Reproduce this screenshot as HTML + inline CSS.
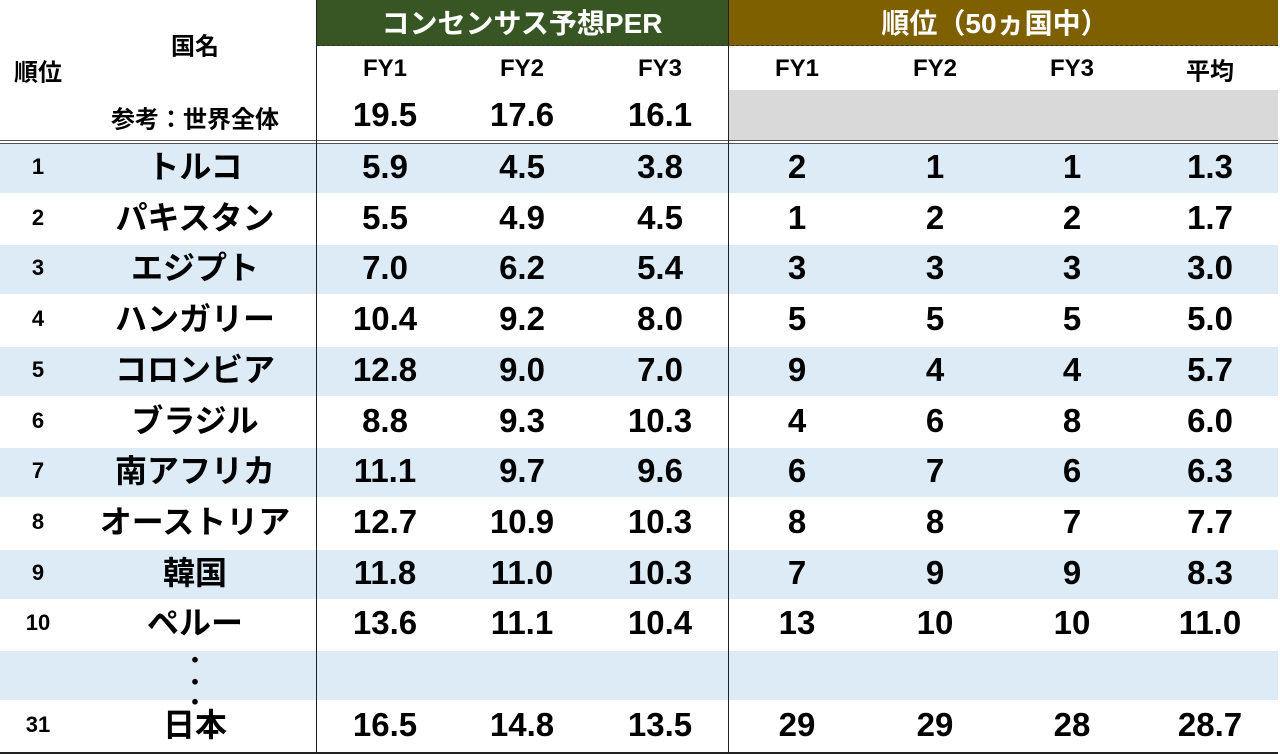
<!DOCTYPE html><html><head><meta charset="utf-8"><style>
body{margin:0;width:1280px;height:754px;background:#fff;position:relative;overflow:hidden;font-family:"Liberation Sans","Noto Sans CJK JP",sans-serif;font-weight:bold;color:#000}
.a{position:absolute}
.t{position:absolute;transform:translate(-50%,-50%);white-space:nowrap}
.n{font-size:33px}
.h{font-size:24px}
</style></head><body>
<div class="a" style="left:317px;top:0;width:411px;height:46px;background:#375623"></div>
<div class="a" style="left:729px;top:0;width:549px;height:46px;background:#7f6000"></div>
<div class="a" style="left:317px;top:45px;width:961px;border-top:1px dashed #333"></div>
<div class="a" style="left:729px;top:90px;width:549px;height:50px;background:#d9d9d9"></div>
<div class="a" style="left:0;top:140px;width:1278px;height:1px;background:#555"></div>
<div class="a" style="left:0;top:143px;width:1278px;height:1px;background:#555"></div>
<div id="rows"></div>
<div class="a" style="left:316px;top:0;width:1px;height:754px;background:#222"></div>
<div class="a" style="left:728px;top:0;width:1px;height:754px;background:#222"></div>
<div class="a" style="left:0;top:752px;width:1278px;height:2px;background:#222"></div>
<div class="t" style="left:522px;top:22px;color:#fff;font-size:28px">コンセンサス予想PER</div>
<div class="t" style="left:995px;top:22px;color:#fff;font-size:28px">順位（50ヵ国中）</div>
<div class="t h" style="left:38px;top:70px">順位</div>
<div class="t h" style="left:195px;top:44px">国名</div>
<div class="t h" style="left:195px;top:117px">参考：世界全体</div>
<div class="t h" style="left:385px;top:69px">FY1</div><div class="t h" style="left:522px;top:69px">FY2</div><div class="t h" style="left:660px;top:69px">FY3</div>
<div class="t h" style="left:797px;top:69px">FY1</div><div class="t h" style="left:935px;top:69px">FY2</div><div class="t h" style="left:1072px;top:69px">FY3</div><div class="t h" style="left:1210px;top:69px">平均</div>
<div class="t n" style="left:385px;top:115px">19.5</div><div class="t n" style="left:522px;top:115px">17.6</div><div class="t n" style="left:660px;top:115px">16.1</div>
<script>
(function(){
var d=[["1","トルコ","5.9","4.5","3.8","2","1","1","1.3"],["2","パキスタン","5.5","4.9","4.5","1","2","2","1.7"],["3","エジプト","7.0","6.2","5.4","3","3","3","3.0"],["4","ハンガリー","10.4","9.2","8.0","5","5","5","5.0"],["5","コロンビア","12.8","9.0","7.0","9","4","4","5.7"],["6","ブラジル","8.8","9.3","10.3","4","6","8","6.0"],["7","南アフリカ","11.1","9.7","9.6","6","7","6","6.3"],["8","オーストリア","12.7","10.9","10.3","8","8","7","7.7"],["9","韓国","11.8","11.0","10.3","7","9","9","8.3"],["10","ペルー","13.6","11.1","10.4","13","10","10","11.0"],null,["31","日本","16.5","14.8","13.5","29","29","28","28.7"]];
var xs=[38,195,385,522,660,797,935,1072,1210],h="";
for(var i=0;i<12;i++){var tp=144+i*50.7,c=tp+23;
if(i%2==0)h+='<div class="a" style="left:0;top:'+tp+'px;width:1278px;height:49px;background:#ddebf7"></div>';
if(!d[i]){h+='<div class="t" style="left:195px;top:'+(tp+8)+'px;font-size:22px">・</div><div class="t" style="left:195px;top:'+(tp+30)+'px;font-size:22px">・</div><div class="t" style="left:195px;top:'+(tp+50)+'px;font-size:22px">・</div>';continue;}
for(var j=0;j<9;j++){var fs=j==0?22:(j==1?32:33);h+='<div class="t" style="left:'+xs[j]+'px;top:'+(j==1?c-2:c)+'px;font-size:'+fs+'px">'+d[i][j]+'</div>';}}
document.getElementById("rows").innerHTML=h;
})();
</script>
</body></html>
